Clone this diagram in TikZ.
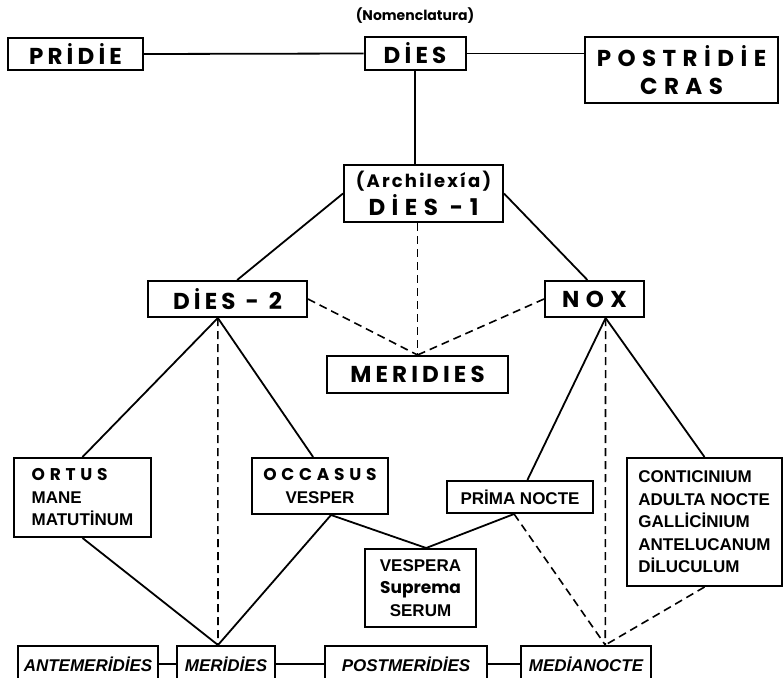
\documentclass[tikz,border=0pt]{standalone}
\usepackage{fontspec}
\setmainfont{Liberation Sans}
\newfontfamily\geo{Poppins}[LetterSpace=18]
\newfontfamily\geow{Poppins}[LetterSpace=28]
\newfontfamily\geot{Poppins}[LetterSpace=12]
\newfontfamily\geon{Poppins}
\usetikzlibrary{calc}
\newcommand\geoB{\geo\bfseries\fontsize{23}{28}\selectfont}
\newcommand\geoW{\geow\bfseries\fontsize{23}{28}\selectfont}
\newcommand\geoS{\geow\bfseries\fontsize{17}{22.5}\selectfont}
\newcommand\libB{\bfseries\fontsize{17}{22.5}\selectfont}
\newcommand\itB{\bfseries\itshape\fontsize{17}{20}\selectfont}
\tikzset{
  box/.style={draw, line width=2pt, inner sep=0pt, anchor=center, align=center},
  conn/.style={line width=1.8pt},
  dsh/.style={line width=1.6pt, dash pattern=on 8pt off 5pt},
}
\begin{document}
\begin{tikzpicture}[x=1pt,y=-1pt]
\clip (0,0) rectangle (784,677);
\fill[white] (0,0) rectangle (784,677);
% top row
\node[box, font=\geoB, minimum width=135pt, minimum height=32pt] (pridie) at (75.5,54) {PRİDİE};
\node[box, font=\geoB, minimum width=101pt, minimum height=33pt] (dies) at (415,53.5) {DİES};
\node[box, font=\geoW, minimum width=193pt, minimum height=66pt] (postr) at (681.5,70) {POSTRİDİE\\CRAS};
\node[font=\geon\bfseries\fontsize{14}{16}\selectfont] (nomen) at (415,16) {(Nomenclatura)};
% archilexia
\node[box, font=\geoW, minimum width=159pt, minimum height=57pt] (arch) at (423.5,193.5) {{\geot\bfseries\fontsize{18}{28}\selectfont (Archilexía)}\\DİES\hspace{12pt}-1};
\node[box, font=\geoB, minimum width=159pt, minimum height=36pt] (dies2) at (227.5,299) {DİES\hspace{10pt}-\hspace{10pt}2};
\node[box, font=\geoW, minimum width=99pt, minimum height=36pt] (nox) at (594.5,299) {NOX};
\node[box, font=\geoB, minimum width=181pt, minimum height=37pt] (merm) at (417.5,374.5) {MERIDIES};
% middle row
\node[box, font=\libB, align=left, minimum width=137pt, minimum height=79pt] (ortus) at (82.5,497.5) {{\geoS ORTUS}\\MANE\\MATUTİNUM};
\node[box, font=\libB, minimum width=136pt, minimum height=56pt] (occ) at (320,486) {{\geoS OCCASUS}\\VESPER};
\node[box, font=\libB, minimum width=146pt, minimum height=32pt] (prima) at (520,497) {PRİMA NOCTE};
\node[box, font=\libB, align=left, minimum width=155pt, minimum height=128pt] (conti) at (704.5,522) {CONTICINIUM\\ADULTA NOCTE\\GALLİCİNIUM\\ANTELUCANUM\\DİLUCULUM};
\node[box, font=\libB, minimum width=111pt, minimum height=78pt] (vesp) at (420.5,588) {VESPERA\\{\geon\fontsize{17}{22.5}\selectfont Suprema}\\SERUM};
% bottom row
\node[box, font=\itB, minimum width=140pt, minimum height=36pt] (ante) at (88,664) {ANTEMERİDİES};
\node[box, font=\itB, minimum width=98pt, minimum height=36pt] (merb) at (226,664) {MERİDİES};
\node[box, font=\itB, minimum width=162pt, minimum height=36pt] (post) at (406,664) {POSTMERİDİES};
\node[box, font=\itB, minimum width=130pt, minimum height=36pt] (medi) at (586,664) {MEDİANOCTE};
% junction points on box edges
\coordinate (d2t) at ($(dies2.north west)!0.56!(dies2.north east)$);
\coordinate (noxt) at ($(nox.north west)!0.43!(nox.north east)$);
\coordinate (d2b) at ($(dies2.south west)!0.44!(dies2.south east)$);
\coordinate (nb) at ($(nox.south west)!0.61!(nox.south east)$);
\coordinate (occt) at ($(occ.north west)!0.45!(occ.north east)$);
\coordinate (occb) at ($(occ.south west)!0.58!(occ.south east)$);
\coordinate (vt) at ($(vesp.north west)!0.55!(vesp.north east)$);
\coordinate (pb) at ($(prima.south west)!0.46!(prima.south east)$);
\coordinate (pt) at ($(prima.north west)!0.55!(prima.north east)$);
\coordinate (mbt) at ($(merb.north west)!0.42!(merb.north east)$);
\coordinate (mdt) at ($(medi.north west)!0.646!(medi.north east)$);
% connectors
\draw[conn] (pridie.east) -- (dies.west);
\draw[conn] (dies.east) -- (dies.east -| postr.west);
\draw[conn] (dies.south) -- (dies.south |- arch.north);
\draw[conn] (arch.west) -- (d2t);
\draw[conn] (arch.east) -- (noxt);
\draw[dsh] (merm.north |- arch.south) -- (merm.north);
\draw[dsh] (dies2.east) -- (merm.north);
\draw[dsh] (nox.west) -- (merm.north);
\draw[conn] (d2b) -- (ortus.north);
\draw[conn] (d2b) -- (occt);
\draw[dsh] (d2b) -- (mbt);
\draw[conn] (ortus.south) -- (mbt);
\draw[conn] (occb) -- (mbt);
\draw[conn] (occb) -- (vt);
\draw[conn] (pb) -- (vt);
\draw[conn] (nb) -- (pt);
\draw[conn] (nb) -- (conti.north);
\draw[dsh] (nb) -- (mdt);
\draw[dsh] (pb) -- (mdt);
\draw[dsh] (conti.south) -- (mdt);
\draw[conn] (ante.east) -- (merb.west);
\draw[conn] (merb.east) -- (post.west);
\draw[conn] (post.east) -- (medi.west);
\end{tikzpicture}
\end{document}
